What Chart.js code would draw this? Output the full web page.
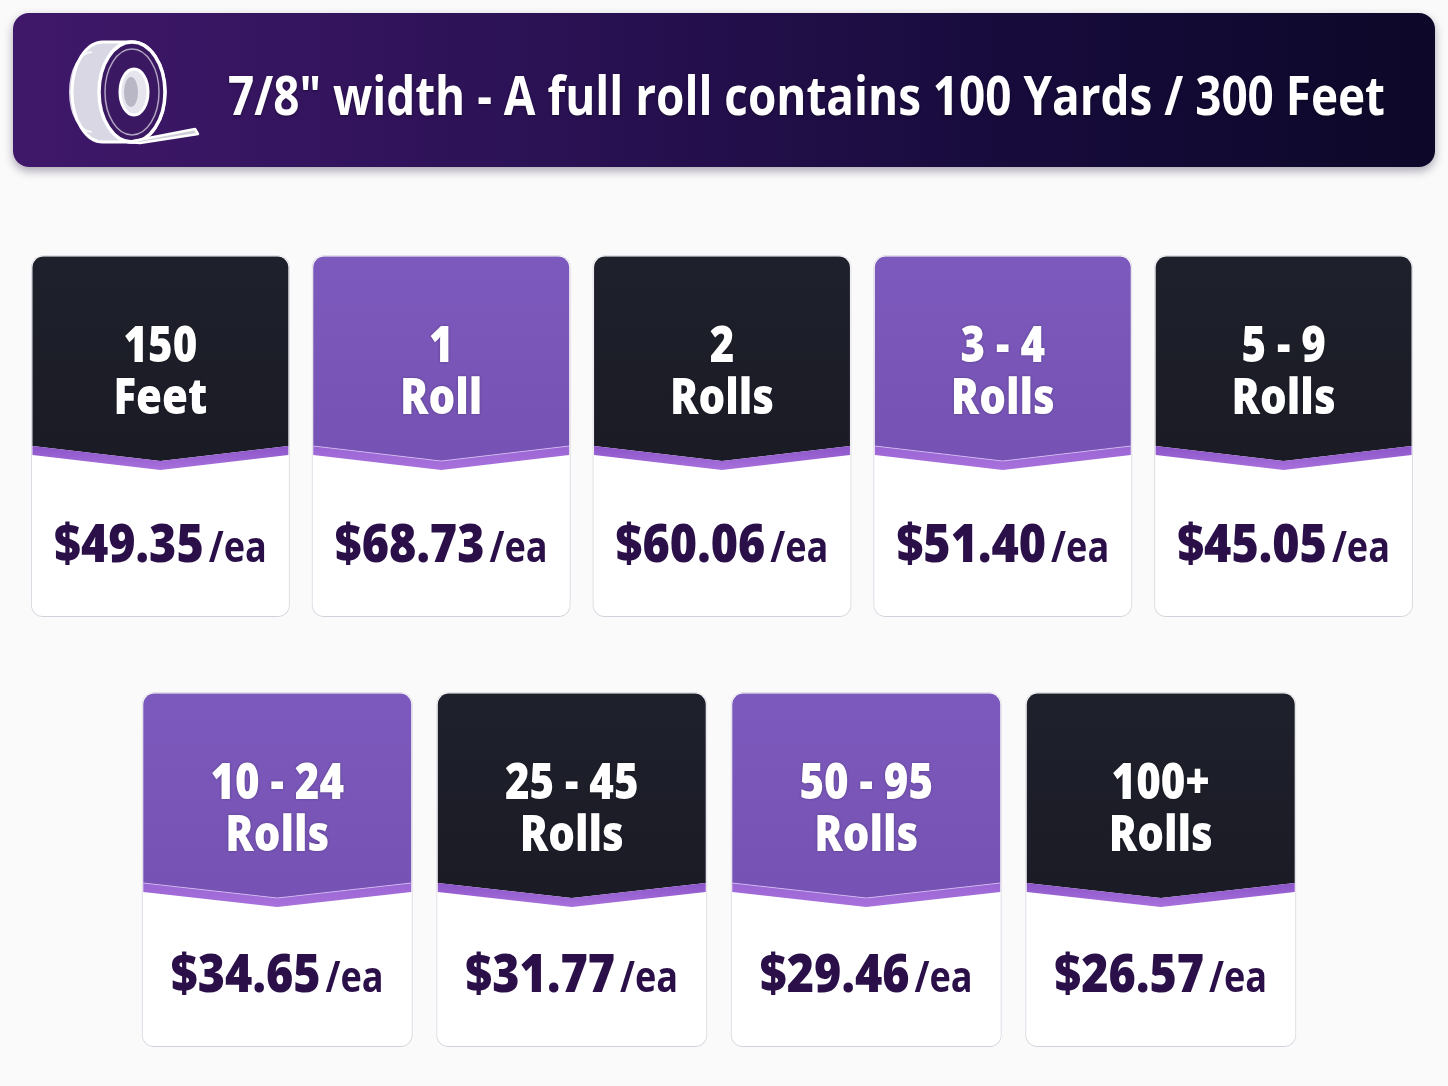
<!DOCTYPE html>
<html>
<head>
<meta charset="utf-8">
<script src="https://cdn.jsdelivr.net/npm/chart.js@4.4.1/dist/chart.umd.min.js"></script>
<style>
  html, body { margin: 0; padding: 0; background: #fafafb; }
  body { width: 1448px; height: 1086px; position: relative; overflow: hidden; font-family: "Open Sans", Lato, sans-serif; }
  #banner {
    position: absolute; left: 13px; top: 13px; width: 1422px; height: 154px; border-radius: 16px;
    background: linear-gradient(90deg, #40186a 0%, #2c1256 35%, #170b3c 70%, #0d0829 100%);
    box-shadow: 0 4px 10px rgba(20, 10, 40, 0.35);
  }
  #bannerText {
    position: absolute; left: 228px; top: 54px; white-space: nowrap; color: #fff;
    font: 700 54px "Open Sans", sans-serif; line-height: 80px; transform-origin: 0 0;
    text-shadow: 0 1px 3px rgba(0, 0, 0, 0.4);
  }
  #icon { position: absolute; left: 0; top: 0; }
  .row { position: absolute; left: 0; }
</style>
</head>
<body>
<div id="banner"></div>
<svg id="icon" width="260" height="180" viewBox="0 0 260 180">
  <path d="M103,42 L132,42 A33,50 0 0,1 132,142 L103,142 A31,50 0 0,1 103,42 Z" fill="#d9d7e3" stroke="#ffffff" stroke-width="3"/>
  <path d="M92,52 A22,40 0 0,0 92,132" fill="none" stroke="#ffffff" stroke-width="2" opacity="0.8"/>
  <ellipse cx="132" cy="92" rx="33" ry="50" fill="#3a1862" stroke="#ffffff" stroke-width="3.5"/>
  <ellipse cx="132" cy="92" rx="27" ry="43" fill="none" stroke="#ffffff" stroke-width="1.5" opacity="0.6"/>
  <ellipse cx="134" cy="92" rx="14" ry="23" fill="#e6e5ee" stroke="#ffffff" stroke-width="3"/>
  <ellipse cx="131" cy="92" rx="7" ry="15" fill="#b9b6c6"/>
  <path d="M128,142 L195,129 L198,134 L140,143 Z" fill="#cfcdd9" stroke="#ffffff" stroke-width="2.5" stroke-linejoin="round"/>
</svg>
<div id="bannerText">7/8" width - A full roll contains 100 Yards / 300 Feet</div>
<canvas id="row1" class="row" width="1448" height="402" style="top:235px"></canvas>
<canvas id="row2" class="row" width="1448" height="395" style="top:672px"></canvas>
<script>
// price tiers, first row
const row1Qty = ["150", "1", "2", "3 - 4", "5 - 9"];
const row1Unit = ["Feet", "Roll", "Rolls", "Rolls", "Rolls"];
const row1Price = [49.35, 68.73, 60.06, 51.40, 45.05];

// price tiers, second row
const row2Qty = ["10 - 24", "25 - 45", "50 - 95", "100+"];
const row2Unit = ["Rolls", "Rolls", "Rolls", "Rolls"];
const row2Price = [34.65, 31.77, 29.46, 26.57];

// fit banner text to its width in the picture
(function() {
  var t = document.getElementById("bannerText");
  var w = t.getBoundingClientRect().width;
  t.style.transform = "scaleX(" + (1157 / w) + ")";
})();

function squeezeText(ctx, str, x, y, font, color, sx) {
  ctx.save();
  ctx.font = font;
  ctx.fillStyle = color;
  ctx.textAlign = "left";
  ctx.textBaseline = "alphabetic";
  ctx.translate(x, y);
  ctx.scale(sx, 1);
  ctx.fillText(str, 0, 0);
  ctx.restore();
}

function textW(ctx, str, font, sx) {
  ctx.save();
  ctx.font = font;
  var w = ctx.measureText(str).width * sx;
  ctx.restore();
  return w;
}

var cardPlugin = {
  id: "cards",
  beforeDatasetsDraw: function(chart) {
    var ctx = chart.ctx;
    ctx.save();
    ctx.shadowColor = "rgba(30, 20, 60, 0.16)";
    ctx.shadowBlur = 10;
    ctx.shadowOffsetY = 3;
  },
  afterDatasetsDraw: function(chart) {
    var ctx = chart.ctx;
    ctx.restore();
    var o = chart.options.plugins.cards;
    var meta = chart.getDatasetMeta(0);
    meta.data.forEach(function(el, i) {
      var p = el.getProps(["x", "y", "base", "width"], true);
      var top = Math.min(p.y, p.base), bot = Math.max(p.y, p.base);
      var l = p.x - p.width / 2 + 1.5, r = p.x + p.width / 2 - 1.5;
      var t = top + 1.5, rad = 11;
      var hb = top + 191, dip = 15, band = 9;
      var dark = (o.start + i) % 2 === 0;

      // header with chevron bottom
      var g = ctx.createLinearGradient(0, t, 0, hb + dip);
      if (dark) { g.addColorStop(0, "#1e202b"); g.addColorStop(1, "#1a1b25"); }
      else { g.addColorStop(0, "#7c59bc"); g.addColorStop(1, "#7552b3"); }
      ctx.beginPath();
      ctx.moveTo(l, hb);
      ctx.lineTo(l, t + rad);
      ctx.arcTo(l, t, l + rad, t, rad);
      ctx.lineTo(r - rad, t);
      ctx.arcTo(r, t, r, t + rad, rad);
      ctx.lineTo(r, hb);
      ctx.lineTo(p.x, hb + dip);
      ctx.closePath();
      ctx.fillStyle = g;
      ctx.fill();

      // accent band under the chevron
      var sg = ctx.createLinearGradient(0, hb, 0, hb + dip + band);
      sg.addColorStop(0, dark ? "#8b55c9" : "#9a66d4");
      sg.addColorStop(1, "#a871dc");
      ctx.beginPath();
      ctx.moveTo(l, hb);
      ctx.lineTo(p.x, hb + dip);
      ctx.lineTo(r, hb);
      ctx.lineTo(r, hb + band);
      ctx.lineTo(p.x, hb + dip + band);
      ctx.lineTo(l, hb + band);
      ctx.closePath();
      ctx.fillStyle = sg;
      ctx.fill();
      if (!dark) {
        ctx.beginPath();
        ctx.moveTo(l, hb);
        ctx.lineTo(p.x, hb + dip);
        ctx.lineTo(r, hb);
        ctx.strokeStyle = "rgba(220, 200, 245, 0.7)";
        ctx.lineWidth = 1.2;
        ctx.stroke();
      }

      // tier label
      var qty = o.qty[i], unit = o.unit[i];
      var lf = "800 50px 'Open Sans'", sx = 0.84;
      var w1 = textW(ctx, qty, lf, sx), w2 = textW(ctx, unit, lf, sx);
      ctx.save();
      ctx.shadowColor = "rgba(0, 0, 0, 0.25)";
      ctx.shadowBlur = 3;
      squeezeText(ctx, qty, p.x - w1 / 2, top + 107, lf, "#ffffff", sx);
      squeezeText(ctx, unit, p.x - w2 / 2, top + 159, lf, "#ffffff", sx);
      ctx.restore();

      // price per each
      var pf = "800 53px 'Open Sans'", ef = "700 43px 'Open Sans'";
      var ps = "$" + o.price[i].toFixed(2), es = "/ea";
      var pw = textW(ctx, ps, pf, 0.88), ew = textW(ctx, es, ef, 0.84), gap = 5;
      var x0 = p.x - (pw + gap + ew) / 2, by = bot - 55;
      squeezeText(ctx, ps, x0, by, pf, "#2a0f48", 0.88);
      squeezeText(ctx, es, x0 + pw + gap, by, ef, "#2a0f48", 0.84);
    });
  }
};

function makeRow(id, qty, unit, price, start, pad, barPct) {
  return new Chart(document.getElementById(id), {
    type: "bar",
    data: {
      labels: qty,
      datasets: [{
        data: qty.map(function() { return [0, 1]; }),
        backgroundColor: "#ffffff",
        borderColor: "#e9e8ee",
        borderWidth: 1,
        borderRadius: 12,
        borderSkipped: false,
        categoryPercentage: 1,
        barPercentage: barPct
      }]
    },
    options: {
      responsive: false,
      animation: false,
      devicePixelRatio: 1,
      layout: { padding: pad },
      scales: {
        x: { display: false, grid: { display: false } },
        y: { display: false, min: 0, max: 1 }
      },
      plugins: {
        legend: { display: false },
        tooltip: { enabled: false },
        cards: { qty: qty, unit: unit, price: price, start: start }
      }
    },
    plugins: [cardPlugin]
  });
}

makeRow("row1", row1Qty, row1Unit, row1Price, 0, { left: 20, right: 24, top: 20, bottom: 20 }, 0.922);
makeRow("row2", row2Qty, row2Unit, row2Price, row1Qty.length, { left: 130, right: 140, top: 20, bottom: 20 }, 0.92);
</script>
</body>
</html>
